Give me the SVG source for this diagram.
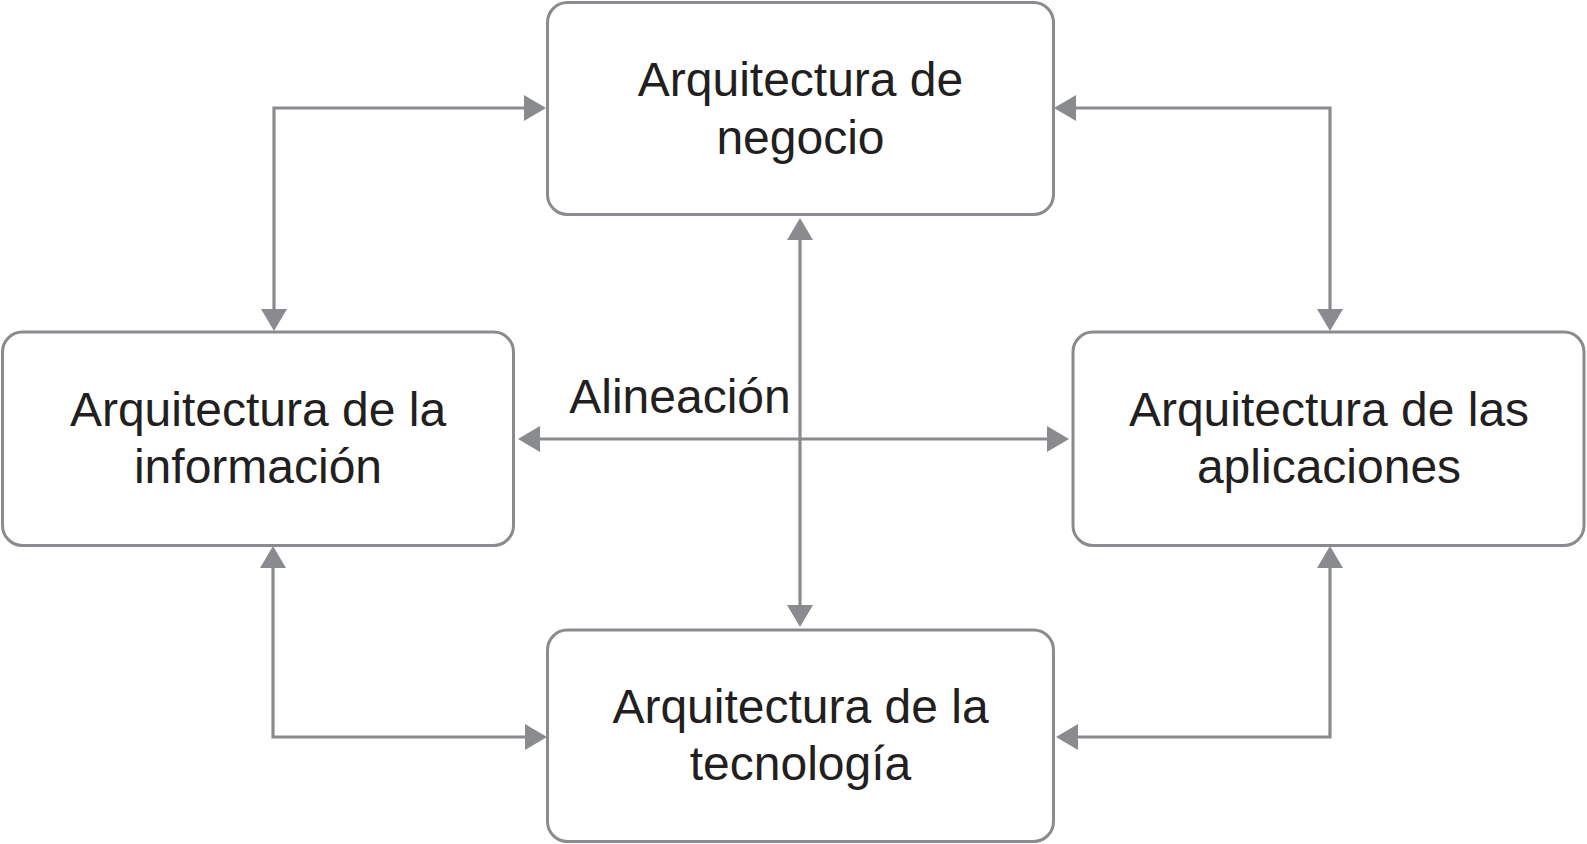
<svg xmlns="http://www.w3.org/2000/svg" width="1587" height="844" viewBox="0 0 1587 844">
<style>
.box{fill:#fff;stroke:#8a8b8e;stroke-width:3}
.lbl{font-family:"Liberation Sans",Arial,Helvetica,sans-serif;font-size:48px;fill:#231f20;text-anchor:middle}
.con{fill:none;stroke:#8a8b8e;stroke-width:3.2;marker-start:url(#ah);marker-end:url(#ah)}
</style>
<defs>
<marker id="ah" markerUnits="userSpaceOnUse" markerWidth="24" markerHeight="28" refX="10" refY="13" orient="auto-start-reverse" viewBox="0 0 24 28">
<path d="M0,0 L22,13 L0,26 Z" fill="#8a8b8e"/>
</marker>
</defs>
<rect width="1587" height="844" fill="#fff"/>
<g id="connectors">
<path class="con" d="M274,319 L274,108 L534,108"/>
<path class="con" d="M1066,108 L1330,108 L1330,319"/>
<path class="con" d="M273,558 L273,737 L535,737"/>
<path class="con" d="M1330,558 L1330,737 L1068,737"/>
<path class="con" d="M800,230 L800,615"/>
<path class="con" d="M530,439 L1057,439"/>
</g>
<g id="label-alineacion">
<text class="lbl" x="680" y="413">Alineación</text>
</g>
<g id="node-negocio">
<rect class="box" x="547.5" y="2.5" width="506" height="212" rx="20"/>
<text class="lbl" x="800.5" y="96">Arquitectura de</text>
<text class="lbl" x="800.5" y="154">negocio</text>
</g>
<g id="node-informacion">
<rect class="box" x="2.5" y="332" width="511" height="213.5" rx="20"/>
<text class="lbl" x="258" y="426">Arquitectura de la</text>
<text class="lbl" x="258" y="483">información</text>
</g>
<g id="node-aplicaciones">
<rect class="box" x="1073" y="332" width="511" height="213.5" rx="20"/>
<text class="lbl" x="1329" y="426">Arquitectura de las</text>
<text class="lbl" x="1329" y="483">aplicaciones</text>
</g>
<g id="node-tecnologia">
<rect class="box" x="547.5" y="630" width="506" height="211.5" rx="20"/>
<text class="lbl" x="800.5" y="723">Arquitectura de la</text>
<text class="lbl" x="800.5" y="780">tecnología</text>
</g>
</svg>
